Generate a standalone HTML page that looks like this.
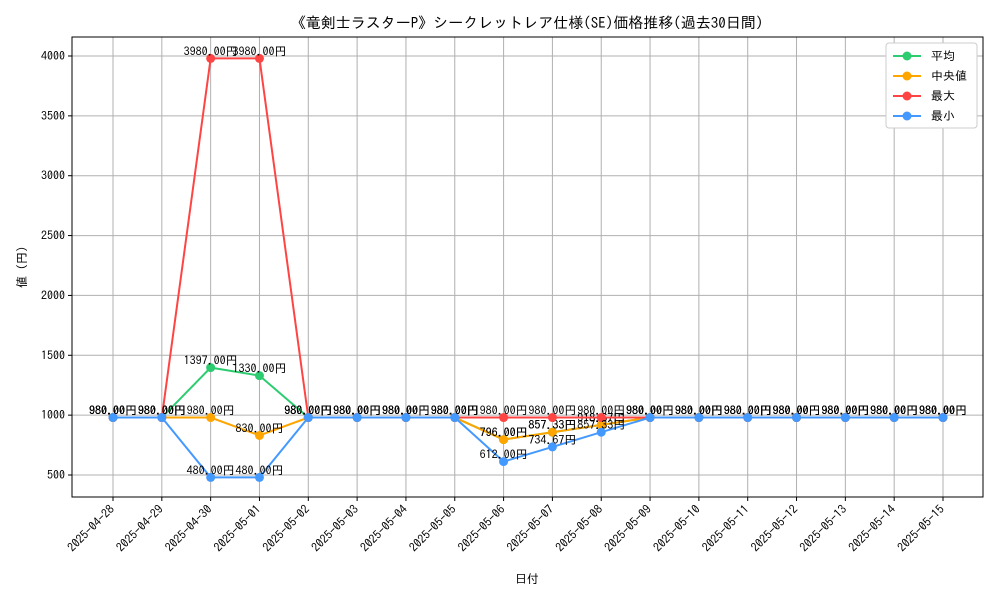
<!DOCTYPE html>
<html><head><meta charset="utf-8"><style>
body{margin:0;background:#fff;}
svg text{font-family:"IPAGothic","Noto Sans CJK JP",sans-serif;}
</style></head><body>
<svg id="chart" width="1000" height="600" xmlns="http://www.w3.org/2000/svg">
<rect width="1000" height="600" fill="#fff"/>
<text x="527" y="28" text-anchor="middle" font-size="15">《竜剣士ラスターP》シークレットレア仕様(SE)価格推移(過去30日間)</text>
<g id="grid"></g><g id="axes"></g><g id="series"></g>
<rect x="72" y="37" width="911" height="460" fill="none" stroke="#000" stroke-width="1"/>
<text x="527" y="583" text-anchor="middle" font-size="12">日付</text>
<text x="26" y="267" text-anchor="middle" font-size="12" transform="rotate(-90 26 267)">値 (円)</text>
<g id="legend"></g>
</svg>
<script>
const dates=["2025-04-28","2025-04-29","2025-04-30","2025-05-01","2025-05-02","2025-05-03","2025-05-04","2025-05-05","2025-05-06","2025-05-07","2025-05-08","2025-05-09","2025-05-10","2025-05-11","2025-05-12","2025-05-13","2025-05-14","2025-05-15"];
const avgVals=[980,980,1397,1330,980,980,980,980,796,857.33,918.67,980,980,980,980,980,980,980];
const medVals=[980,980,980,830,980,980,980,980,796,857.33,918.67,980,980,980,980,980,980,980];
const maxVals=[980,980,3980,3980,980,980,980,980,980,980,980,980,980,980,980,980,980,980];
const minVals=[980,980,480,480,980,980,980,980,612,734.67,857.33,980,980,980,980,980,980,980];
const yTicks=[500,1000,1500,2000,2500,3000,3500,4000];
const seriesNames=["平均","中央値","最大","最小"];
const colors=["#2ecc71","#ffa500","#ff4444","#4499ff"];
const NS="http://www.w3.org/2000/svg";
const X=i=>113+i*(943-113)/(dates.length-1);
const Y=v=>475-(v-500)*(475-56)/3500;
function mk(tag,attrs,parent){const e=document.createElementNS(NS,tag);for(const k in attrs)e.setAttribute(k,attrs[k]);parent.appendChild(e);return e;}
const grid=document.getElementById('grid'),axes=document.getElementById('axes'),ser=document.getElementById('series'),leg=document.getElementById('legend');
dates.forEach((d,i)=>{
 const l=mk('line',{x1:X(i),x2:X(i),y1:37,y2:497,stroke:'#b0b0b0','stroke-width':1},grid);
 
 
 mk('line',{x1:X(i),x2:X(i),y1:497,y2:501,stroke:'#000'},axes);
 const t=mk('text',{x:X(i)+2,y:510,'font-size':12,'text-anchor':'end',transform:`rotate(-45 ${X(i)+2} 510)`},axes);
 
 
 t.textContent=d;
});
yTicks.forEach(v=>{
 const l=mk('line',{x1:72,x2:983,y1:Y(v),y2:Y(v),stroke:'#b0b0b0','stroke-width':1},grid);
 
 
 mk('line',{x1:68,x2:72,y1:Y(v),y2:Y(v),stroke:'#000'},axes);
 const t=mk('text',{x:65,y:Y(v)+4,'font-size':12,'text-anchor':'end'},axes);
 
 
 t.textContent=v;
});
[avgVals,medVals,maxVals,minVals].forEach((vals,s)=>{
 const g=mk('g',{},ser);
 
 
 mk('polyline',{points:vals.map((v,i)=>X(i)+','+Y(v)).join(' '),fill:'none',stroke:colors[s],'stroke-width':2},g);
 vals.forEach((v,i)=>{
  const c=mk('circle',{cx:X(i),cy:Y(v),r:4.5,fill:colors[s]},g);
  
  
 });
 vals.forEach((v,i)=>{
  const t=mk('text',{x:X(i),y:Y(v)-3,'font-size':12,'text-anchor':'middle'},g);
  
  
  t.textContent=v.toFixed(2)+'円';
 });
});
mk('rect',{x:886,y:43,width:91,height:85,fill:'#fff',stroke:'#ccc',rx:3},leg);
seriesNames.forEach((n,s)=>{
 const y=56+s*20;
 const g=mk('g',{},leg);
 
 
 mk('line',{x1:893,x2:921,y1:y,y2:y,stroke:colors[s],'stroke-width':2},g);
 mk('circle',{cx:907,cy:y,r:4.5,fill:colors[s]},g);
 const t=mk('text',{x:931,y:y+4,'font-size':12},g);
 t.textContent=n;
});
</script>
</body></html>
